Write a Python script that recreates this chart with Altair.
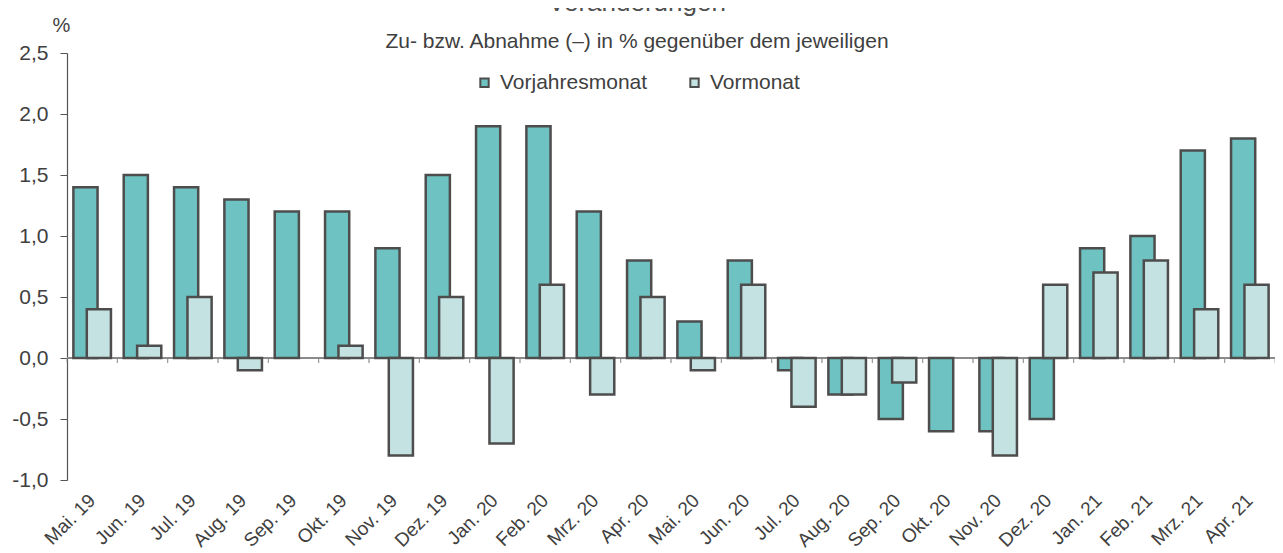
import altair as alt
import pandas as pd

months = ["Mai. 19", "Jun. 19", "Jul. 19", "Aug. 19", "Sep. 19", "Okt. 19", "Nov. 19", "Dez. 19",
          "Jan. 20", "Feb. 20", "Mrz. 20", "Apr. 20", "Mai. 20", "Jun. 20", "Jul. 20", "Aug. 20",
          "Sep. 20", "Okt. 20", "Nov. 20", "Dez. 20", "Jan. 21", "Feb. 21", "Mrz. 21", "Apr. 21"]
vorjahresmonat = [1.4, 1.5, 1.4, 1.3, 1.2, 1.2, 0.9, 1.5, 1.9, 1.9, 1.2, 0.8,
                  0.3, 0.8, -0.1, -0.3, -0.5, -0.6, -0.6, -0.5, 0.9, 1.0, 1.7, 1.8]
vormonat = [0.4, 0.1, 0.5, -0.1, 0.0, 0.1, -0.8, 0.5, -0.7, 0.6, -0.3, 0.5,
            -0.1, 0.6, -0.4, -0.3, -0.2, 0.0, -0.8, 0.6, 0.7, 0.8, 0.4, 0.6]
series = ["Vorjahresmonat", "Vormonat"]
y_ticks = [-1.0, -0.5, 0.0, 0.5, 1.0, 1.5, 2.0, 2.5]

df = pd.concat([
    pd.DataFrame({"month": months, "series": series[0], "value": vorjahresmonat}),
    pd.DataFrame({"month": months, "series": series[1], "value": vormonat}),
], ignore_index=True)

FONT = "Liberation Sans"
TXT = "#404040"
STROKE = "#4d4d4d"

x_enc = alt.X("month:N", sort=months, title=None,
              scale=alt.Scale(paddingInner=0, paddingOuter=0),
              axis=alt.Axis(domain=False, ticks=False, labelAngle=-45, labelAlign="right",
                            labelBaseline="middle", labelPadding=17, labelFontSize=19,
                            labelColor=TXT, labelFont=FONT, labelOverlap=False))
y_scale = alt.Scale(domain=[-1, 2.5], nice=False, zero=False)
y_axis = alt.Axis(values=y_ticks, grid=False, title="%", titleAngle=0, titleX=-6, titleY=-28,
                  titleAlign="center", titleBaseline="middle", titleFontSize=20,
                  titleFontWeight="normal", titleColor=TXT, titleFont=FONT,
                  labelExpr="replace(replace(format(datum.value, '.1f'), '.', ','), '\u2212', '-')",
                  labelFontSize=21, labelColor=TXT, labelFont=FONT, labelPadding=12,
                  tickSize=7, tickColor="#555555", domainColor="#555555", domainWidth=1.2)

base = alt.Chart(df)

fill_scale = alt.Scale(domain=series, range=["#6EC3C2", "#C3E2E1"])
legend = alt.Legend(orient="none", legendX=318, legendY=-22, direction="horizontal",
                    title="Zu- bzw. Abnahme (–) in % gegenüber dem jeweiligen",
                    titleAnchor="middle", titleFontSize=21, titleFontWeight="normal",
                    titleColor=TXT, titleFont=FONT, titlePadding=20, titleLimit=800,
                    labelFontSize=21, labelColor=TXT, labelFont=FONT, labelOffset=5,
                    symbolType="square", symbolSize=70, symbolStrokeColor=STROKE,
                    symbolStrokeWidth=2, columnPadding=36, symbolOpacity=1)

zero_line = base.transform_filter(alt.datum.series == series[0]).transform_calculate(z="0").mark_rule(
    color="#8a8a8a", strokeWidth=1).encode(y=alt.Y("z:Q", scale=y_scale, axis=y_axis))

ticks0 = base.transform_filter(alt.datum.series == series[0]).transform_calculate(z="0").mark_tick(
    orient="vertical", size=5, thickness=1, yOffset=2.5, color="#8a8a8a").encode(
    x=alt.X("month:N", sort=months, bandPosition=0), y=alt.Y("z:Q", scale=y_scale, axis=y_axis))
ticks1 = base.transform_filter(alt.datum.series == series[0]).transform_calculate(z="0").mark_tick(
    orient="vertical", size=5, thickness=1, yOffset=2.5, color="#8a8a8a").encode(
    x=alt.X("month:N", sort=months, bandPosition=1), y=alt.Y("z:Q", scale=y_scale, axis=y_axis))

bars_a = base.transform_filter(alt.datum.series == series[0]).mark_bar(
    width=alt.RelativeBandSize(0.48), xOffset=-6.7, stroke=STROKE, strokeWidth=2.5).encode(
    x=x_enc, y=alt.Y("value:Q", scale=y_scale, axis=y_axis),
    fill=alt.Fill("series:N", scale=fill_scale, legend=legend))
bars_b = base.transform_filter((alt.datum.series == series[1]) & (alt.datum.value != 0)).mark_bar(
    width=alt.RelativeBandSize(0.48), xOffset=6.7, stroke=STROKE, strokeWidth=2.5).encode(
    x=x_enc, y=alt.Y("value:Q", scale=y_scale, axis=y_axis),
    fill=alt.Fill("series:N", scale=fill_scale, legend=legend))

title = alt.Chart(pd.DataFrame({"t": ["Veränderungen"]})).mark_text(
    fontSize=26, font=FONT, color="#505050", align="center", baseline="alphabetic").encode(
    text="t:N", x=alt.value(570), y=alt.value(-42))

chart = alt.layer(zero_line, ticks0, ticks1, bars_a, bars_b, title).properties(
    width=1208, height=427,
    autosize=alt.AutoSizeParams(type="none"),
    padding={"left": 59, "top": 45, "right": 0, "bottom": 73},
).configure_view(stroke=None)

chart.save("out.html", embed_options={"renderer": "svg", "actions": False})
